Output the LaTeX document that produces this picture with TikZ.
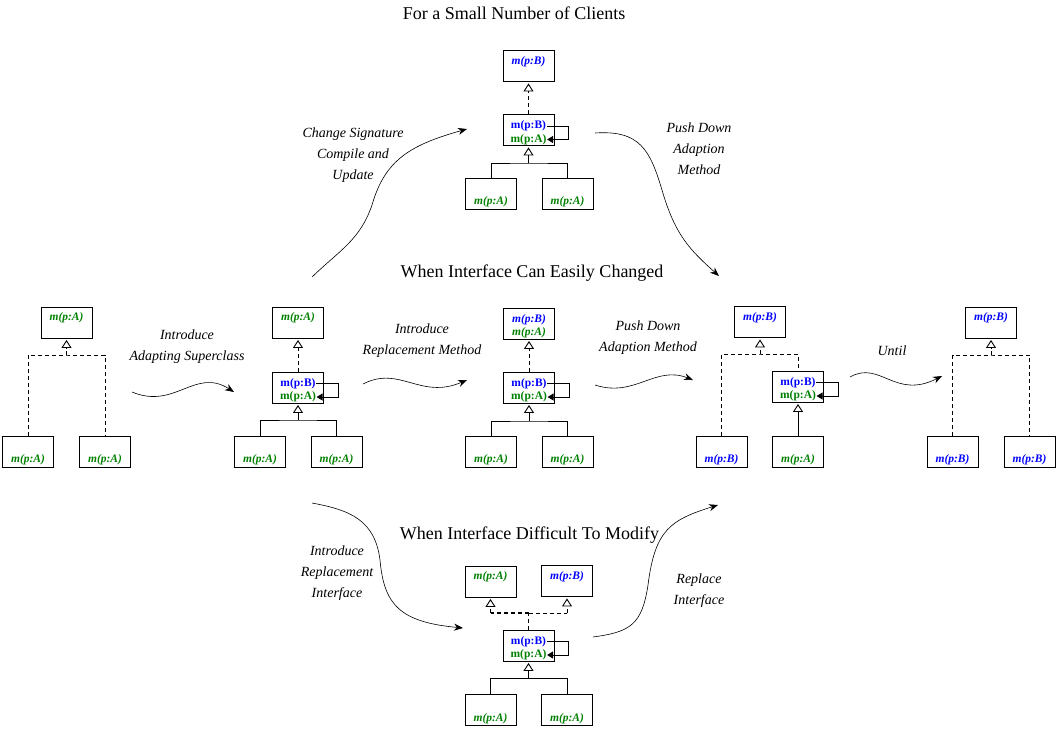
\documentclass[tikz,border=0pt]{standalone}
\usepackage{fontspec}
\setmainfont{Liberation Serif}
\usetikzlibrary{arrows.meta}
\definecolor{cA}{RGB}{0,128,0}
\definecolor{cB}{RGB}{0,0,255}
\newcommand\bxfont{\fontsize{11.5}{12}\selectfont\bfseries}
% box with one text line: name, x, y, yshift, style, text
\newcommand\bx[6]{\node[box] (#1) at (#2,#3) {};
  \node[#5] (#1t) at ([yshift=#4]#1.center) {#6};}
% middle box with self-call loop: name, x, y
\newcommand\midbox[3]{\node[box] (#1) at (#2,#3) {};
  \node[ub] (#1b) at ([yshift=4pt]#1.center) {m(p:B)};
  \node[ua] (#1a) at ([yshift=-9.5pt]#1.center) {m(p:A)};
  \draw[selfloop] (#1b.east) -| ([xshift=14pt]#1.east) |- (#1a.east);}
\begin{document}
\begin{tikzpicture}[x=1pt,y=-1pt,
  box/.style={draw, line width=0.9pt, minimum width=51pt, minimum height=31pt, inner sep=0pt},
  tx/.style={inner sep=0.5pt, font=\bxfont\itshape},
  ta/.style={tx, text=cA}, tb/.style={tx, text=cB},
  ua/.style={inner sep=0.5pt, font=\bxfont, text=cA},
  ub/.style={inner sep=0.5pt, font=\bxfont, text=cB},
  ln/.style={line width=0.9pt},
  dsh/.style={dash pattern=on 4pt off 3pt},
  inh/.style={-{Triangle[open,length=8pt,width=10pt,line width=0.9pt]}, shorten >=1.5pt},
  selfloop/.style={line width=0.9pt, -{Triangle[length=6pt,width=7pt]}},
  flow/.style={line width=0.6pt, -{Stealth[length=9pt,width=7pt]}},
  ttl/.style={font=\fontsize{18}{20}\selectfont},
  lab/.style={font=\fontsize{14}{21}\selectfont\itshape, align=center}]
\useasboundingbox (0,0) rectangle (1058,729);

% ---------- titles ----------
\node[ttl] (t1) at (514,13) {For a Small Number of Clients};
\node[ttl] (t2) at (532,273) {When Interface Can Easily Changed};
\node[ttl] (t3) at (529.5,535) {When Interface Difficult To Modify};

% ---------- top group ----------
\bx{Ta}{528.5}{66}{4.5pt}{tb}{m(p:B)}
\midbox{Tm}{528.5}{130}
\bx{Tl}{491}{193.5}{-8.5pt}{ta}{m(p:A)}
\bx{Tr}{567.5}{193.5}{-8.5pt}{ta}{m(p:A)}
\coordinate (Tj) at (528.5,163);
\draw[ln,dsh,inh] (Tm.north) -- (Ta.south);
\draw[ln,inh] (Tj) -- (Tm.south);
\draw[ln] (Tl.north) |- (Tj) -| (Tr.north);

% ---------- group 1 ----------
\bx{Aa}{66.5}{322.5}{4.5pt}{ta}{m(p:A)}
\bx{Al}{28}{451.5}{-8.5pt}{ta}{m(p:A)}
\bx{Ar}{105}{451.5}{-8.5pt}{ta}{m(p:A)}
\coordinate (Aj) at (66.5,355);
\draw[ln,dsh,inh] (Aj) -- (Aa.south);
\draw[ln,dsh] (Al.north) |- (Aj) -| (Ar.north);

% ---------- group 2 ----------
\bx{Ca}{298}{322.5}{4.5pt}{ta}{m(p:A)}
\midbox{Cm}{298}{387.5}
\bx{Cl}{260}{451.5}{-8.5pt}{ta}{m(p:A)}
\bx{Cr}{336.5}{451.5}{-8.5pt}{ta}{m(p:A)}
\coordinate (Cj) at (298,420);
\draw[ln,dsh,inh] (Cm.north) -- (Ca.south);
\draw[ln,inh] (Cj) -- (Cm.south);
\draw[ln] (Cl.north) |- (Cj) -| (Cr.north);

% ---------- group 3 ----------
\node[box] (Da) at (529,323.5) {};
\node[tb] (Dab) at ([yshift=4pt]Da.center) {m(p:B)};
\node[ta] (Daa) at ([yshift=-9.5pt]Da.center) {m(p:A)};
\midbox{Dm}{529}{387.5}
\bx{Dl}{491}{451.5}{-8.5pt}{ta}{m(p:A)}
\bx{Dr}{567.5}{451.5}{-8.5pt}{ta}{m(p:A)}
\coordinate (Dj) at (529,421);
\draw[ln,dsh,inh] (Dm.north) -- (Da.south);
\draw[ln,inh] (Dj) -- (Dm.south);
\draw[ln] (Dl.north) |- (Dj) -| (Dr.north);

% ---------- group 4 ----------
\bx{Ea}{760}{322}{4.5pt}{tb}{m(p:B)}
\midbox{Em}{798}{386.5}
\bx{El}{721.5}{451.5}{-8.5pt}{tb}{m(p:B)}
\bx{Er}{798}{451.5}{-8.5pt}{ta}{m(p:A)}
\coordinate (Ej) at (760,354);
\draw[ln,dsh,inh] (Ej) -- (Ea.south);
\draw[ln,dsh] (El.north) |- (Ej) -| (Em.north);
\draw[ln,inh] (Er.north) -- (Em.south);

% ---------- group 5 ----------
\bx{Fa}{991}{322.5}{4.5pt}{tb}{m(p:B)}
\bx{Fl}{952.5}{451.5}{-8.5pt}{tb}{m(p:B)}
\bx{Fr}{1029.5}{451.5}{-8.5pt}{tb}{m(p:B)}
\coordinate (Fj) at (991,355);
\draw[ln,dsh,inh] (Fj) -- (Fa.south);
\draw[ln,dsh] (Fl.north) |- (Fj) -| (Fr.north);

% ---------- bottom group ----------
\bx{Bl1}{490.5}{581.5}{4.5pt}{ta}{m(p:A)}
\bx{Br1}{567}{581}{4.5pt}{tb}{m(p:B)}
\midbox{Bm}{528.5}{645.5}
\bx{Bl}{490.5}{710}{-8.5pt}{ta}{m(p:A)}
\bx{Br}{567}{710}{-8.5pt}{ta}{m(p:A)}
\coordinate (Bj) at (528.5,613);
\coordinate (Bk) at (528.5,678);
\draw[ln,dsh] (Bm.north) -- (Bj);
\draw[line width=1.6pt,dsh] (Bj) -- (Bl1.south |- Bj);
\draw[ln,dsh] (Bj) -- (Br1.south |- Bj);
\draw[ln,dsh,inh] (Bl1.south |- Bj) -- (Bl1.south);
\draw[ln,dsh,inh] (Br1.south |- Bj) -- (Br1.south);
\draw[ln,inh] (Bk) -- (Bm.south);
\draw[ln] (Bl.north) |- (Bk) -| (Br.north);

% ---------- labels ----------
\node[lab] (L1) at (353,155) {Change Signature\\Compile and\\Update};
\node[lab] (L2) at (699,149) {Push Down\\Adaption\\Method};
\node[lab] (L3) at (187,347) {Introduce\\Adapting Superclass};
\node[lab] (L4) at (422,341) {Introduce\\Replacement Method};
\node[lab] (L5) at (648,338) {Push Down\\Adaption Method};
\node[lab] (L6) at (892,351) {Until};
\node[lab] (L7) at (337,573.5) {Introduce\\Replacement\\Interface};
\node[lab] (L8) at (699,591) {Replace\\Interface};

% ---------- flow arrows ----------
\coordinate (c1s) at (312,277); \coordinate (c1e) at (467,129);
\draw[flow] (c1s) .. controls (340,250) and (360,240) .. (372,205)
                  .. controls (385,160) and (410,145) .. (c1e);
\coordinate (c2s) at (595,133); \coordinate (c2e) at (719,276);
\draw[flow] (c2s) .. controls (640,130) and (650,150) .. (662,190)
                  .. controls (675,235) and (690,250) .. (c2e);
\coordinate (c3s) at (132,392); \coordinate (c3e) at (234,392);
\draw[flow] (c3s) .. controls (175,410) and (195,367) .. (c3e);
\coordinate (c4s) at (363,384); \coordinate (c4e) at (467,380);
\draw[flow] (c4s) .. controls (400,365) and (420,400) .. (c4e);
\coordinate (c5s) at (595,385); \coordinate (c5e) at (693,380);
\draw[flow] (c5s) .. controls (635,398) and (655,365) .. (c5e);
\coordinate (c6s) at (850,377); \coordinate (c6e) at (942,376);
\draw[flow] (c6s) .. controls (880,360) and (895,400) .. (c6e);
\coordinate (c7s) at (312,503); \coordinate (c7e) at (463,628);
\draw[flow] (c7s) .. controls (350,510) and (375,520) .. (380,560)
                  .. controls (384,605) and (400,622) .. (c7e);
\coordinate (c8s) at (593,637); \coordinate (c8e) at (718,505);
\draw[flow] (c8s) .. controls (630,632) and (642,625) .. (648,585)
                  .. controls (655,530) and (670,520) .. (c8e);
\end{tikzpicture}
\end{document}
